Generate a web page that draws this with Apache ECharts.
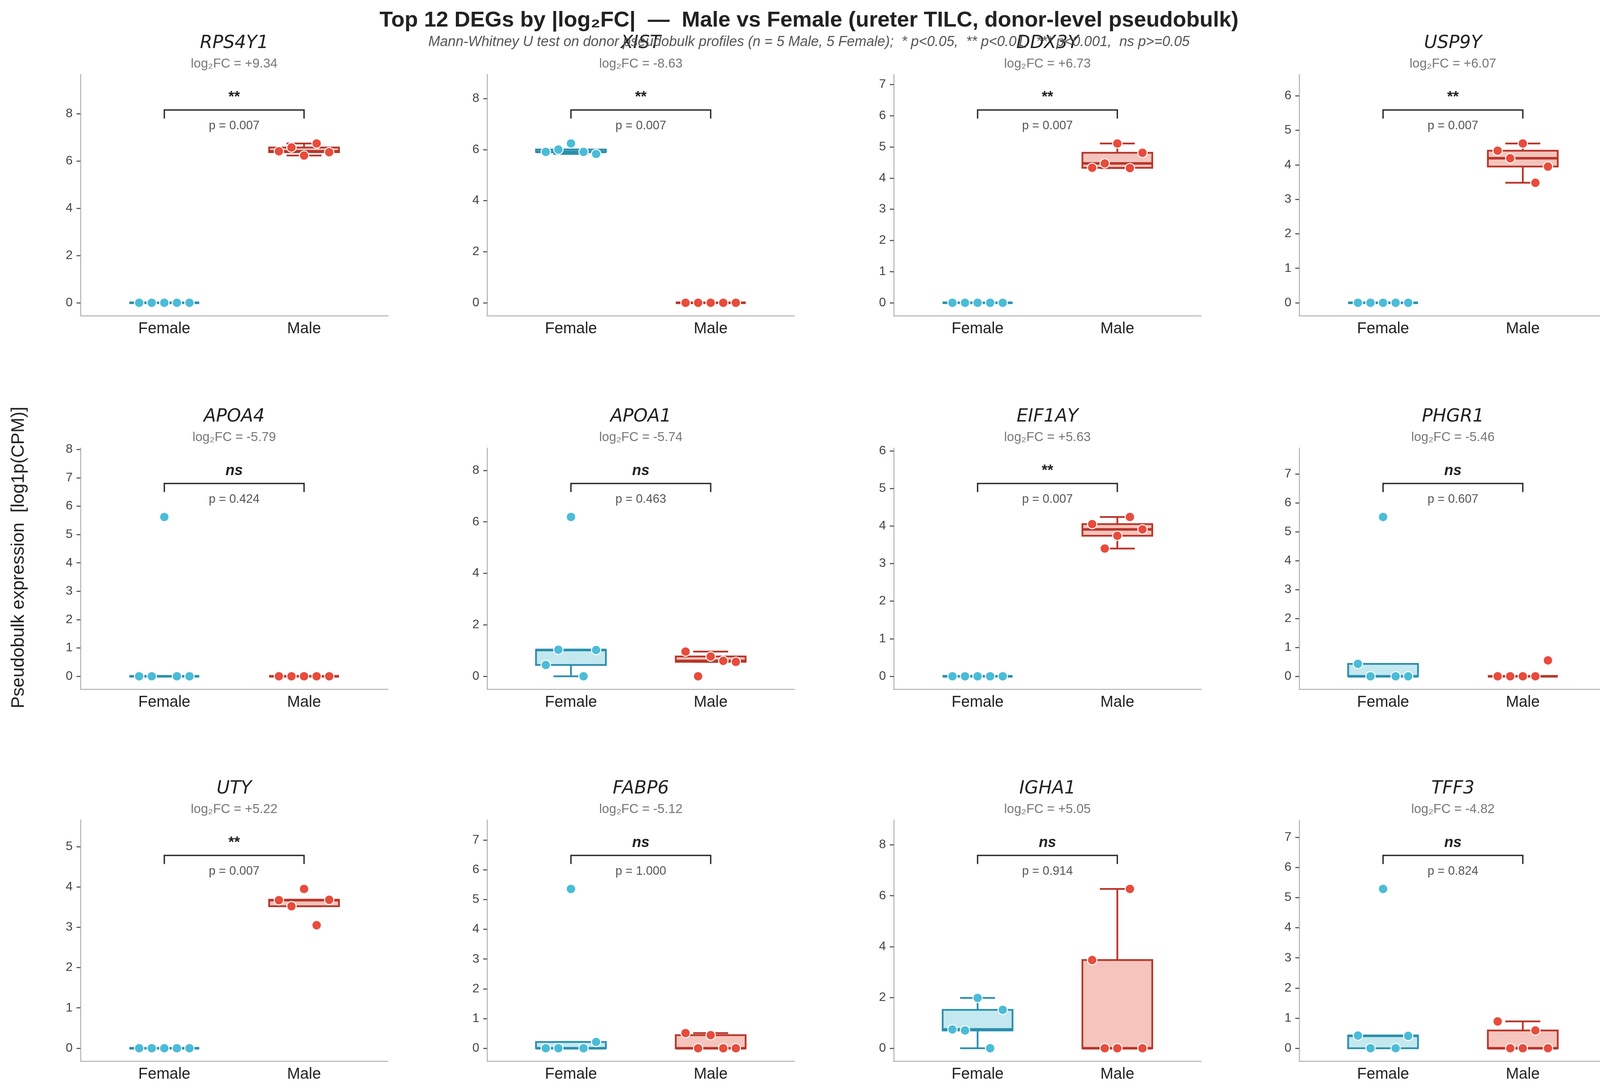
<!DOCTYPE html>
<html>
<head>
<meta charset="utf-8">
<title>Top 12 DEGs - Male vs Female</title>
<script src="https://cdn.jsdelivr.net/npm/echarts@6.0.0/dist/echarts.min.js"></script>
<style>
  html, body { margin: 0; padding: 0; background: #fff; }
  #chart { width: 4142px; height: 2795px; }
</style>
</head>
<body>
<div id="chart"></div>
<script>
// ------------------------------------------------------------------
// Data
// ------------------------------------------------------------------
var groups = ['Female', 'Male'];

var genes = ['RPS4Y1', 'XIST', 'DDX3Y', 'USP9Y', 'APOA4', 'APOA1',
             'EIF1AY', 'PHGR1', 'UTY', 'FABP6', 'IGHA1', 'TFF3'];

var log2FC = [9.34, -8.63, 6.73, 6.07, -5.79, -5.74, 5.63, -5.46, 5.22, -5.12, 5.05, -4.82];

var pValues = [0.007, 0.007, 0.007, 0.007, 0.424, 0.463, 0.007, 0.607, 0.007, 1.000, 0.914, 0.824];

// donor-level pseudobulk values, donors in plotting order (left to right)
var femaleValues = [
    [0, 0, 0, 0, 0],
    [5.91, 6.00, 6.24, 5.91, 5.83],
    [0, 0, 0, 0, 0],
    [0, 0, 0, 0, 0],
    [0, 0, 5.62, 0, 0],
    [0.44, 1.03, 6.19, 0, 1.02],
    [0, 0, 0, 0, 0],
    [0.43, 0, 5.51, 0, 0],
    [0, 0, 0, 0, 0],
    [0, 0, 5.36, 0, 0.21],
    [0.74, 0.70, 1.98, 0, 1.51],
    [0.42, 0, 5.29, 0, 0.41]
];

var maleValues = [
    [6.41, 6.57, 6.23, 6.74, 6.37],
    [0, 0, 0, 0, 0],
    [4.33, 4.47, 5.11, 4.32, 4.81],
    [4.41, 4.19, 4.62, 3.48, 3.95],
    [0, 0, 0, 0, 0],
    [0.96, 0, 0.77, 0.60, 0.56],
    [4.05, 3.40, 3.74, 4.24, 3.91],
    [0, 0, 0, 0, 0.55],
    [3.67, 3.52, 3.95, 3.05, 3.68],
    [0.51, 0, 0.44, 0, 0],
    [3.47, 0, 0, 6.27, 0],
    [0.89, 0, 0, 0.59, 0]
];

var yTicks = [
    [0, 2, 4, 6, 8],
    [0, 2, 4, 6, 8],
    [0, 1, 2, 3, 4, 5, 6, 7],
    [0, 1, 2, 3, 4, 5, 6],
    [0, 1, 2, 3, 4, 5, 6, 7, 8],
    [0, 2, 4, 6, 8],
    [0, 1, 2, 3, 4, 5, 6],
    [0, 1, 2, 3, 4, 5, 6, 7],
    [0, 1, 2, 3, 4, 5],
    [0, 1, 2, 3, 4, 5, 6, 7],
    [0, 2, 4, 6, 8],
    [0, 1, 2, 3, 4, 5, 6, 7]
];

// ------------------------------------------------------------------
// Style
// ------------------------------------------------------------------
var FONT = '"Liberation Sans", Arial, Helvetica, sans-serif';
var BOX_W = 0.5;
var DONOR_OFFSETS = [-0.18, -0.09, 0, 0.09, 0.18];
var COLORS = {
    point: ['#4bbcd7', '#e74c3c'],
    edge:  ['#2b8fac', '#b8362b'],
    fill:  ['#c4e8f0', '#f5c4bc']
};

var GRID_LEFT = [206, 1247, 2288, 3326];
var GRID_TOP = [191, 1147, 2099];
var GRID_W = 787;
var GRID_H = 617;

// ------------------------------------------------------------------
// Helpers
// ------------------------------------------------------------------
var percentile = function (sorted, q) {
    var pos = (sorted.length - 1) * q;
    var lo = Math.floor(pos), hi = Math.ceil(pos);
    return sorted[lo] + (sorted[hi] - sorted[lo]) * (pos - lo);
};

var boxStats = function (vals) {
    var s = vals.slice().sort(function (a, b) { return a - b; });
    var q1 = percentile(s, 0.25), med = percentile(s, 0.5), q3 = percentile(s, 0.75);
    var iqr = q3 - q1;
    var inside = s.filter(function (v) { return v >= q1 - 1.5 * iqr && v <= q3 + 1.5 * iqr; });
    return [inside[0], q1, med, q3, inside[inside.length - 1]];
};

var starLabel = function (p) {
    if (p < 0.001) return '***';
    if (p < 0.01) return '**';
    if (p < 0.05) return '*';
    return 'ns';
};

var renderBox = function (params, api) {
    var x = api.value(0);
    var lo = api.value(1), q1 = api.value(2), med = api.value(3), q3 = api.value(4), hi = api.value(5);
    var g = api.value(6);
    var edge = COLORS.edge[g];
    var tl = api.coord([x - BOX_W / 2, q3]);
    var br = api.coord([x + BOX_W / 2, q1]);
    var cL = api.coord([x - BOX_W / 4, 0])[0];
    var cR = api.coord([x + BOX_W / 4, 0])[0];
    var cx = api.coord([x, 0])[0];
    var yLo = api.coord([x, lo])[1], yHi = api.coord([x, hi])[1];
    var yMed = api.coord([x, med])[1];
    var lineStyle = { stroke: edge, lineWidth: 4.5, fill: null };
    return {
        type: 'group',
        children: [
            { type: 'line', shape: { x1: cx, y1: tl[1], x2: cx, y2: yHi }, style: lineStyle },
            { type: 'line', shape: { x1: cx, y1: br[1], x2: cx, y2: yLo }, style: lineStyle },
            { type: 'line', shape: { x1: cL, y1: yHi, x2: cR, y2: yHi }, style: lineStyle },
            { type: 'line', shape: { x1: cL, y1: yLo, x2: cR, y2: yLo }, style: lineStyle },
            {
                type: 'rect',
                shape: { x: tl[0], y: tl[1], width: br[0] - tl[0], height: br[1] - tl[1] },
                style: { fill: COLORS.fill[g], stroke: edge, lineWidth: 4.5 }
            },
            { type: 'line', shape: { x1: tl[0], y1: yMed, x2: br[0], y2: yMed },
              style: { stroke: edge, lineWidth: 6.5 } }
        ]
    };
};

var renderBracket = function (params, api) {
    var by = api.value(0), tick = api.value(1), sy = api.value(2), py = api.value(3);
    var i = api.value(4);
    var a = api.coord([0, by]), b = api.coord([1, by]);
    var t = api.coord([0, by - tick])[1];
    var s = api.coord([0.5, sy]), p = api.coord([0.5, py]);
    var star = starLabel(pValues[i]);
    return {
        type: 'group',
        children: [
            {
                type: 'polyline',
                shape: { points: [[a[0], t], a, b, [b[0], t]] },
                style: { stroke: '#2b2b2b', lineWidth: 3.5, fill: null }
            },
            {
                type: 'text', x: s[0], y: s[1],
                style: {
                    text: star, align: 'center', verticalAlign: 'middle',
                    font: (star === 'ns' ? 'italic ' : '') + 'bold 38px ' + FONT,
                    fill: '#222'
                }
            },
            {
                type: 'text', x: p[0], y: p[1],
                style: {
                    text: 'p = ' + pValues[i].toFixed(3), align: 'center', verticalAlign: 'middle',
                    font: '31px ' + FONT, fill: '#555'
                }
            }
        ]
    };
};

// ------------------------------------------------------------------
// Build option
// ------------------------------------------------------------------
var grids = [], xAxes = [], yAxes = [], series = [], graphics = [];

genes.forEach(function (gene, i) {
    var col = i % 4, row = Math.floor(i / 4);
    var all = femaleValues[i].concat(maleValues[i]);
    var ymax = Math.max.apply(null, all);

    grids.push({ left: GRID_LEFT[col], top: GRID_TOP[row], width: GRID_W, height: GRID_H });

    xAxes.push({
        gridIndex: i, type: 'value', min: -0.6, max: 1.6,
        splitLine: { show: false },
        axisLine: { show: true, onZero: false, lineStyle: { color: '#bdbdbd', width: 3 } },
        axisTick: { show: false },
        axisLabel: {
            customValues: [0, 1],
            formatter: function (v) { return groups[Math.round(v)]; },
            color: '#222', fontSize: 40, fontFamily: FONT, margin: 14
        }
    });

    yAxes.push({
        gridIndex: i, type: 'value',
        min: -0.081 * ymax, max: 1.432 * ymax,
        splitLine: { show: false },
        axisLine: { show: true, onZero: false, lineStyle: { color: '#bdbdbd', width: 3 } },
        axisTick: { show: true, customValues: yTicks[i], length: 10, lineStyle: { color: '#444', width: 2.5 } },
        axisLabel: {
            customValues: yTicks[i], color: '#444', fontSize: 32, fontFamily: FONT, margin: 20
        }
    });

    // boxes
    var boxData = [femaleValues[i], maleValues[i]].map(function (vals, g) {
        return [g].concat(boxStats(vals)).concat([g]);
    });
    series.push({
        type: 'custom', xAxisIndex: i, yAxisIndex: i, clip: false, z: 2,
        renderItem: renderBox,
        encode: { x: 0, y: [1, 2, 3, 4, 5] },
        data: boxData
    });

    // donor points
    [femaleValues[i], maleValues[i]].forEach(function (vals, g) {
        series.push({
            type: 'scatter', xAxisIndex: i, yAxisIndex: i, z: 4,
            symbol: 'circle', symbolSize: 24,
            itemStyle: { color: COLORS.point[g], borderColor: '#ffffff', borderWidth: 2.5, opacity: 1 },
            data: vals.map(function (v, d) { return [g + DONOR_OFFSETS[d], v]; })
        });
    });

    // significance bracket
    var by = 1.21 * ymax;
    series.push({
        type: 'custom', xAxisIndex: i, yAxisIndex: i, clip: false, z: 5,
        renderItem: renderBracket,
        encode: { x: -1, y: 0 },
        data: [[by, 0.054 * ymax, by + 0.078 * ymax, by - 0.1 * ymax, i]]
    });

    // panel titles
    var cx = GRID_LEFT[col] + GRID_W / 2;
    graphics.push({
        type: 'text', x: cx, y: GRID_TOP[row] - 80,
        style: {
            text: gene, align: 'center', verticalAlign: 'middle',
            font: 'italic 46px "DejaVu Sans", sans-serif', fill: '#222'
        }
    });
    graphics.push({
        type: 'text', x: cx, y: GRID_TOP[row] - 27,
        style: {
            text: 'log\u2082FC = ' + (log2FC[i] > 0 ? '+' : '') + log2FC[i].toFixed(2),
            align: 'center', verticalAlign: 'middle',
            font: '33px ' + FONT, fill: '#777'
        }
    });
});

graphics.push({
    type: 'text', x: 2071, y: 53,
    style: {
        text: 'Top 12 DEGs by |log\u2082FC|  \u2014  Male vs Female (ureter TILC, donor-level pseudobulk)',
        align: 'center', verticalAlign: 'middle',
        font: 'bold 56px ' + FONT, fill: '#222'
    }
});
graphics.push({
    type: 'text', x: 2071, y: 108,
    style: {
        text: 'Mann-Whitney U test on donor pseudobulk profiles (n = 5 Male, 5 Female);  * p<0.05,  ** p<0.01,  *** p<0.001,  ns p>=0.05',
        align: 'center', verticalAlign: 'middle',
        font: 'italic 36px ' + FONT, fill: '#555'
    }
});
graphics.push({
    type: 'text', x: 48, y: 1427, rotation: Math.PI / 2,
    style: {
        text: 'Pseudobulk expression  [log1p(CPM)]',
        align: 'center', verticalAlign: 'middle',
        font: '46px ' + FONT, fill: '#222'
    }
});

var chart = echarts.init(document.getElementById('chart'), null, { renderer: 'canvas', devicePixelRatio: 1 });
chart.setOption({
    backgroundColor: '#ffffff',
    animation: false,
    grid: grids,
    xAxis: xAxes,
    yAxis: yAxes,
    series: series,
    graphic: graphics
});

window.addEventListener('resize', function () {
    chart.resize();
});
</script>
</body>
</html>
